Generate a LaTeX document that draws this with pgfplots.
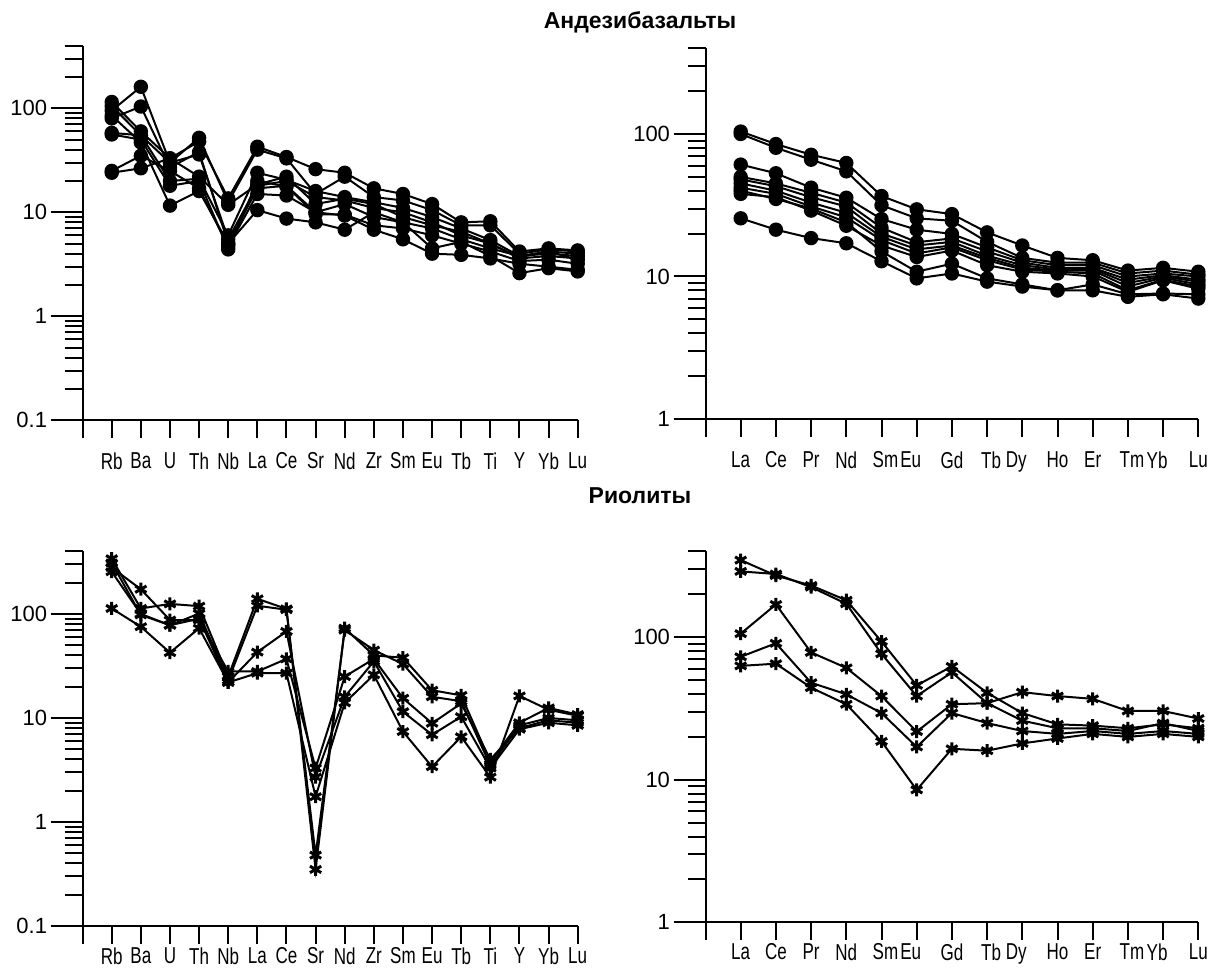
\documentclass[border=0pt]{standalone}
\usepackage{fontspec}
\setmainfont{Liberation Sans}
\newfontfamily\narrow[FakeStretch=0.74]{Liberation Sans}
\usepackage{pgfplots}
\pgfplotsset{compat=1.18}

\pgfplotsset{
  every axis/.append style={
    scale only axis, clip=false,
    axis x line=bottom, axis y line=left,
    axis line style={-, line width=2pt},
    xmin=0,
    tick align=outside,
    major tick length=32pt, minor tick length=18pt,
    tick style={line width=2pt, black},
    major x tick style={draw=none},
    tick label style={font=\fontsize{22}{25}\selectfont},
    xticklabel style={font=\narrow\fontsize{23}{26}\selectfont},
  },
  every axis plot/.append style={black, line width=2pt},
  pdot/.style={mark=*, mark size=6.2pt},
  pstar/.style={mark=asterisk, mark size=6.5pt, mark options={line width=3pt}},
}

\begin{document}
\begin{tikzpicture}
\useasboundingbox (0,0) rectangle (1218pt,972pt);
\node[font=\bfseries\fontsize{23}{26}\selectfont] at (640pt,950pt) {Андезибазальты};
\node[font=\bfseries\fontsize{23}{26}\selectfont] at (640pt,476pt) {Риолиты};

% andesibasalts, trace elements
\begin{axis}[at={(82.6pt,551.7pt)}, anchor=south west,
    width=495.1pt, height=374.6pt, ymode=log,
    xticklabel shift=-3pt,
    xmax=17, xtick={1,...,17}, minor xtick={0,...,17},
    xticklabels={Rb,Ba,U,Th,Nb,La,Ce,Sr,Nd,Zr,Sm,Eu,Tb,Ti,Y,Yb,Lu},
    ymin=0.1, ymax=400,
    ytick={0.1,1,10,100}, yticklabels={0.1,1,10,100},
    minor ytick={0.2,0.3,0.4,0.5,0.6,0.7,0.8,0.9,2,3,4,5,6,7,8,9,20,30,40,50,60,70,80,90,200,300,400}]
\addplot[pdot] coordinates {(1,95)(2,161)(3,30)(4,36)(5,5.5)(6,18)(7,20)(8,14)(9,13)(10,11)(11,10)(12,8)(13,6)(14,5)(15,3.7)(16,4.2)(17,4.0)};
\addplot[pdot] coordinates {(1,80)(2,104)(3,27)(4,38)(5,5.0)(6,17)(7,18)(8,10)(9,12)(10,9)(11,8)(12,7)(13,5.5)(14,4.5)(15,3.8)(16,4.0)(17,3.8)};
\addplot[pdot] coordinates {(1,115)(2,60)(3,33)(4,48)(5,13.6)(6,42.7)(7,34)(8,26)(9,24)(10,17)(11,15)(12,12)(13,8)(14,8.2)(15,4.2)(16,4.5)(17,4.3)};
\addplot[pdot] coordinates {(1,105)(2,55)(3,30)(4,52)(5,12.5)(6,40)(7,33)(8,15)(9,22)(10,14)(11,13)(12,10.5)(13,7.5)(14,7.5)(15,4.0)(16,4.4)(17,4.2)};
\addplot[pdot] coordinates {(1,58)(2,55)(3,20)(4,21)(5,6.0)(6,24)(7,20.5)(8,16)(9,14)(10,12.5)(11,11)(12,9)(13,7)(14,5.4)(15,3.8)(16,4.2)(17,3.5)};
\addplot[pdot] coordinates {(1,56)(2,50)(3,18)(4,20)(5,4.4)(6,20)(7,17.7)(8,9.6)(9,9.5)(10,7.5)(11,7)(12,6)(13,5)(14,4.2)(15,3.4)(16,3.5)(17,3.2)};
\addplot[pdot] coordinates {(1,25)(2,35)(3,25)(4,17)(5,4.7)(6,15)(7,14.5)(8,10)(9,9.3)(10,6.8)(11,5.5)(12,4.0)(13,3.9)(14,3.6)(15,3.2)(16,3.0)(17,2.8)};
\addplot[pdot] coordinates {(1,24)(2,26.5)(3,33)(4,22)(5,11.8)(6,18.5)(7,22)(8,12)(9,13.5)(10,12)(11,9)(12,7.5)(13,6.5)(14,5)(15,3.6)(16,3.8)(17,3.6)};
\addplot[pdot] coordinates {(1,85)(2,47)(3,11.6)(4,16)(5,5.0)(6,10.5)(7,8.7)(8,8.0)(9,6.8)(10,10)(11,8)(12,4.5)(13,5.2)(14,3.8)(15,2.6)(16,2.9)(17,2.7)};
\end{axis}

% andesibasalts, REE
\begin{axis}[at={(705.5pt,553pt)}, anchor=south west,
    width=492.8pt, height=370.8pt, ymode=log,
    xticklabel shift=-3pt,
    xmax=14, xtick={1,...,14}, minor xtick={0,...,14},
    xticklabels={La,Ce,Pr,Nd,\hspace*{8pt}Sm,Eu\hspace*{12pt},Gd,\hspace*{8pt}Tb,Dy\hspace*{12pt},Ho,Er,\hspace*{8pt}Tm,Yb\hspace*{12pt},Lu},
    ymin=1, ymax=400,
    ytick={1,10,100}, yticklabels={1,10,100},
    minor ytick={2,3,4,5,6,7,8,9,20,30,40,50,60,70,80,90,200,300,400}]
\addplot[pdot] coordinates {(1,104)(2,85)(3,71.5)(4,62.6)(5,36.7)(6,29.6)(7,27.4)(8,20.4)(9,16.5)(10,13.5)(11,13)(12,11)(13,11.5)(14,10.8)};
\addplot[pdot] coordinates {(1,100)(2,80)(3,66)(4,54.7)(5,31.6)(6,25.6)(7,24.6)(8,17.5)(9,13.5)(10,12.5)(11,12.5)(12,10.5)(13,11)(14,10.3)};
\addplot[pdot] coordinates {(1,61)(2,53)(3,42)(4,35.7)(5,25.3)(6,21.3)(7,19.9)(8,16)(9,13)(10,12)(11,12)(12,10)(13,10.5)(14,10)};
\addplot[pdot] coordinates {(1,50)(2,45)(3,38.7)(4,33)(5,22)(6,17.4)(7,18.5)(8,15)(9,12.5)(10,11.5)(11,11.5)(12,9.5)(13,10.2)(14,9.5)};
\addplot[pdot] coordinates {(1,48)(2,43)(3,36)(4,31)(5,20)(6,16.5)(7,17.5)(8,14)(9,12)(10,11.2)(11,11.3)(12,9)(13,10)(14,9.2)};
\addplot[pdot] coordinates {(1,45)(2,40)(3,33)(4,28)(5,19)(6,15.5)(7,16.5)(8,13.5)(9,11.5)(10,11)(11,11)(12,8.5)(13,9.8)(14,8.8)};
\addplot[pdot] coordinates {(1,42)(2,38)(3,31)(4,26)(5,18)(6,14.5)(7,16)(8,13)(9,11.2)(10,10.8)(11,10.5)(12,8.0)(13,9.5)(14,8.5)};
\addplot[pdot] coordinates {(1,38)(2,36)(3,29)(4,22.7)(5,16.5)(6,13.7)(7,15.2)(8,12)(9,10.8)(10,10.5)(11,10)(12,7.8)(13,9.4)(14,8.2)};
\addplot[pdot] coordinates {(1,40)(2,35)(3,30)(4,24)(5,15)(6,10.8)(7,12.3)(8,9.7)(9,8.8)(10,8.0)(11,8.8)(12,7.5)(13,7.6)(14,7.5)};
\addplot[pdot] coordinates {(1,25.6)(2,21.3)(3,18.6)(4,17.1)(5,12.8)(6,9.7)(7,10.5)(8,9.2)(9,8.5)(10,8.0)(11,8.0)(12,7.2)(13,7.5)(14,7.0)};
\end{axis}

% rhyolites, trace elements
\begin{axis}[at={(82.6pt,46pt)}, anchor=south west,
    width=495.1pt, height=374.6pt, ymode=log,
    xticklabel shift=-14pt,
    xmax=17, xtick={1,...,17}, minor xtick={0,...,17},
    xticklabels={Rb,Ba,U,Th,Nb,La,Ce,Sr,Nd,Zr,Sm,Eu,Tb,Ti,Y,Yb,Lu},
    ymin=0.1, ymax=400,
    ytick={0.1,1,10,100}, yticklabels={0.1,1,10,100},
    minor ytick={0.2,0.3,0.4,0.5,0.6,0.7,0.8,0.9,2,3,4,5,6,7,8,9,20,30,40,50,60,70,80,90,200,300,400}]
\addplot[pstar] coordinates {(1,340)(2,113)(3,125)(4,119)(5,25)(6,140)(7,112)(8,0.35)(9,73)(10,40)(11,38)(12,18.5)(13,16.5)(14,3.8)(15,9)(16,12.5)(17,10.8)};
\addplot[pstar] coordinates {(1,310)(2,98)(3,78)(4,101)(5,23)(6,120)(7,110)(8,0.48)(9,70)(10,45)(11,33)(12,16)(13,14.5)(14,3.5)(15,8.5)(16,10)(17,9.5)};
\addplot[pstar] coordinates {(1,280)(2,173)(3,87.5)(4,87.5)(5,28)(6,28)(7,37)(8,3.3)(9,25)(10,37)(11,15.5)(12,8.9)(13,13.8)(14,4.0)(15,8)(16,9.5)(17,9)};
\addplot[pstar] coordinates {(1,255)(2,100)(3,78)(4,90)(5,22)(6,43)(7,68)(8,2.7)(9,16)(10,35)(11,11.5)(12,6.9)(13,10.3)(14,3.3)(15,7.8)(16,9)(17,8.5)};
\addplot[pstar] coordinates {(1,113)(2,75.5)(3,42.5)(4,73)(5,22)(6,27)(7,27)(8,1.75)(9,14)(10,26)(11,7.4)(12,3.4)(13,6.6)(14,2.7)(15,16.3)(16,12)(17,10.5)};
\end{axis}

% rhyolites, REE
\begin{axis}[at={(705.5pt,49.7pt)}, anchor=south west,
    width=492.8pt, height=370.8pt, ymode=log,
    xticklabel shift=-14pt,
    xmax=14, xtick={1,...,14}, minor xtick={0,...,14},
    xticklabels={La,Ce,Pr,Nd,\hspace*{8pt}Sm,Eu\hspace*{12pt},Gd,\hspace*{8pt}Tb,Dy\hspace*{12pt},Ho,Er,\hspace*{8pt}Tm,Yb\hspace*{12pt},Lu},
    ymin=1, ymax=400,
    ytick={1,10,100}, yticklabels={1,10,100},
    minor ytick={2,3,4,5,6,7,8,9,20,30,40,50,60,70,80,90,200,300,400}]
\addplot[pstar] coordinates {(1,348)(2,271)(3,231)(4,182)(5,93.4)(6,46)(7,62.5)(8,40.8)(9,29.4)(10,24.5)(11,24)(12,23)(13,24.5)(14,23)};
\addplot[pstar] coordinates {(1,290)(2,278)(3,225)(4,172)(5,76.6)(6,38.7)(7,56.8)(8,34.5)(9,26)(10,23)(11,23)(12,22)(13,25)(14,22)};
\addplot[pstar] coordinates {(1,106)(2,170)(3,78.3)(4,61)(5,38.7)(6,21.8)(7,33.9)(8,34.5)(9,41.2)(10,38.7)(11,37)(12,30.4)(13,30.4)(14,26.9)};
\addplot[pstar] coordinates {(1,73)(2,90.8)(3,48)(4,39.8)(5,29.4)(6,17)(7,29.4)(8,25)(9,22)(10,21)(11,22)(12,21)(13,22)(14,21)};
\addplot[pstar] coordinates {(1,63)(2,65.3)(3,44.3)(4,33.9)(5,18.6)(6,8.5)(7,16.5)(8,16)(9,18)(10,19.5)(11,21)(12,20)(13,21)(14,20)};
\end{axis}
\end{tikzpicture}
\end{document}
